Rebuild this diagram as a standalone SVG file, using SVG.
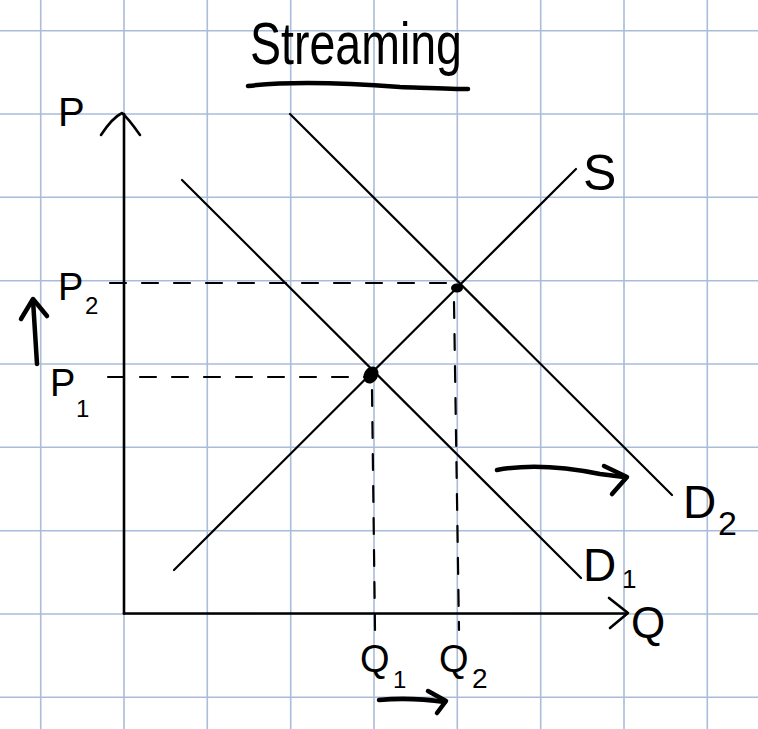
<svg xmlns="http://www.w3.org/2000/svg" width="758" height="729" viewBox="0 0 758 729">
<style>
.grid line{stroke:#a9bcd9;stroke-width:1.6}
.ink{fill:none;stroke:#000;stroke-linecap:round;stroke-linejoin:round}
.axis{stroke-width:2.6}
.curve{stroke-width:2.2}
.dash{stroke-width:2.2;stroke-dasharray:16 16}
.thick{stroke-width:4.5}
.lbl{font-family:"Liberation Sans",Arial,sans-serif;fill:#000}
</style>
<rect width="758" height="729" fill="#fff"/>
<g class="grid" id="grid">
<line x1="40.7" y1="0" x2="40.7" y2="729"/><line x1="124" y1="0" x2="124" y2="729"/><line x1="207.3" y1="0" x2="207.3" y2="729"/><line x1="290.7" y1="0" x2="290.7" y2="729"/><line x1="374" y1="0" x2="374" y2="729"/><line x1="457.3" y1="0" x2="457.3" y2="729"/><line x1="540.7" y1="0" x2="540.7" y2="729"/><line x1="624" y1="0" x2="624" y2="729"/><line x1="707.3" y1="0" x2="707.3" y2="729"/>
<line x1="0" y1="30.7" x2="758" y2="30.7"/><line x1="0" y1="114" x2="758" y2="114"/><line x1="0" y1="197.3" x2="758" y2="197.3"/><line x1="0" y1="280.7" x2="758" y2="280.7"/><line x1="0" y1="364" x2="758" y2="364"/><line x1="0" y1="447.3" x2="758" y2="447.3"/><line x1="0" y1="530.7" x2="758" y2="530.7"/><line x1="0" y1="614" x2="758" y2="614"/><line x1="0" y1="697.3" x2="758" y2="697.3"/>
</g>
<g id="title">
<text class="lbl" x="250" y="64" font-size="60" textLength="212" lengthAdjust="spacingAndGlyphs">Streaming</text>
<path class="ink" d="M248,86 C300,80 360,84 400,87 C430,88 455,89 468,89" stroke-width="4.5"/>
</g>
<g id="axes">
<path class="ink axis" d="M124,613.5 V114"/>
<path class="ink axis" d="M101,135 Q112,118 122,113 Q128,118 140,135"/>
<path class="ink axis" d="M124,613.5 H627"/>
<path class="ink axis" d="M609,598 L628,613 L610,628"/>
<text class="lbl" x="58" y="126" font-size="40">P</text>
<text class="lbl" x="631" y="638" font-size="44">Q</text>
</g>
<g id="curves">
<path class="ink curve" d="M174,570 L576,169"/>
<path class="ink curve" d="M182,180 L581,578"/>
<path class="ink curve" d="M290,114 L672,495"/>
<text class="lbl" x="583" y="190" font-size="50">S</text>
<text class="lbl" x="583" y="581" font-size="46">D</text>
<text class="lbl" x="622" y="588" font-size="26">1</text>
<text class="lbl" x="683" y="518" font-size="46">D</text>
<text class="lbl" x="718" y="535" font-size="34">2</text>
</g>
<g id="connectors">
<path class="ink dash" d="M110,283 H458"/>
<path class="ink dash" d="M108,377 H366"/>
<path class="ink dash" d="M372,390 L375,630"/>
<path class="ink dash" d="M454,302 L459,630"/>
</g>
<g id="equilibria">
<ellipse cx="371" cy="375" rx="7" ry="9" transform="rotate(30 371 375)" fill="#000"/>
<ellipse cx="457" cy="288" rx="6" ry="4.5" fill="#000"/>
</g>
<g id="price-labels">
<text class="lbl" x="58" y="300" font-size="38">P</text>
<text class="lbl" x="85" y="314" font-size="24">2</text>
<text class="lbl" x="50" y="396" font-size="38">P</text>
<text class="lbl" x="76" y="417" font-size="24">1</text>
<path class="ink thick" d="M37,364 L33,300"/>
<path class="ink thick" d="M21,319 L33,299 L47,316"/>
</g>
<g id="quantity-labels">
<text class="lbl" x="360" y="672" font-size="38">Q</text>
<text class="lbl" x="393" y="688" font-size="24">1</text>
<text class="lbl" x="439" y="672" font-size="38">Q</text>
<text class="lbl" x="472" y="688" font-size="28">2</text>
<path class="ink thick" d="M379,700 Q410,697 445,702"/>
<path class="ink thick" d="M428,691 L446,701 L437,713"/>
</g>
<g id="shift">
<path class="ink thick" d="M497,470 Q540,462 600,474 L624,477"/>
<path class="ink thick" d="M604,466 L627,477 L612,494"/>
</g>
</svg>
